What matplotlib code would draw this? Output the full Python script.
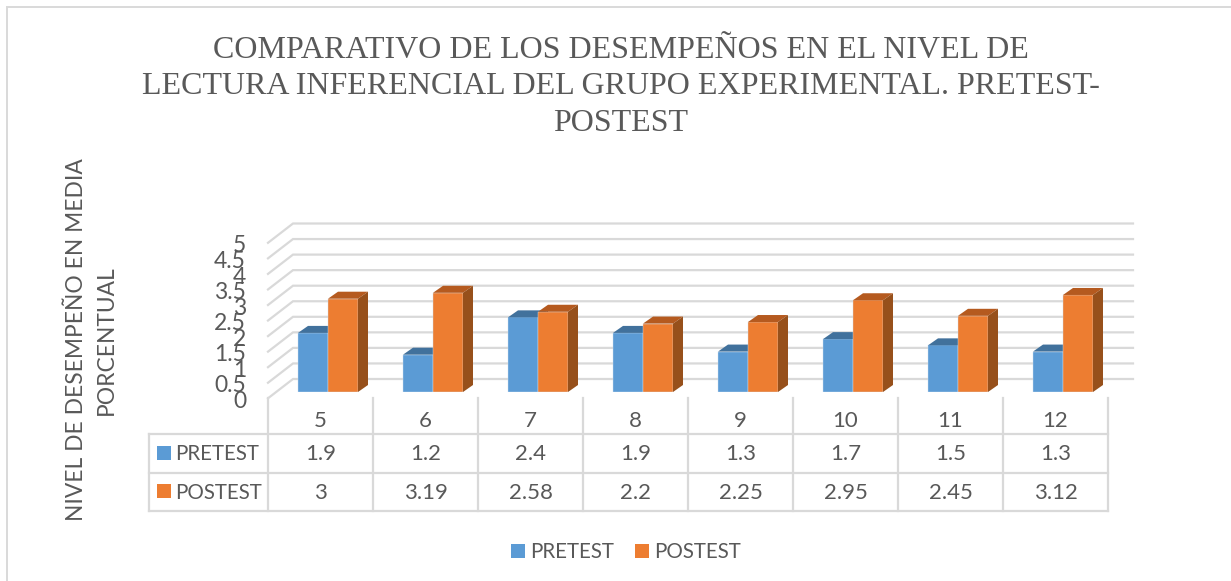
import matplotlib
matplotlib.use("Agg")
from matplotlib import pyplot as plt
from matplotlib.patches import Polygon, Rectangle

grados = ["5", "6", "7", "8", "9", "10", "11", "12"]
pretest = [1.9, 1.2, 2.4, 1.9, 1.3, 1.7, 1.5, 1.3]
postest = [3, 3.19, 2.58, 2.2, 2.25, 2.95, 2.45, 3.12]
postest_txt = ["3", "3.19", "2.58", "2.2", "2.25", "2.95", "2.45", "3.12"]
marcas = [0, 0.5, 1, 1.5, 2, 2.5, 3, 3.5, 4, 4.5, 5]
marcas_txt = ["0", "0.5", "1", "1.5", "2", "2.5", "3", "3.5", "4", "4.5", "5"]

titulo = ("COMPARATIVO DE LOS DESEMPEÑOS EN EL NIVEL DE\n"
          "LECTURA INFERENCIAL DEL GRUPO EXPERIMENTAL. PRETEST-\n"
          "POSTEST")

W, H = 1231, 581
GRIS = "#595959"
LINEA = "#d9d9d9"
AZUL = ("#5b9bd5", "#41719c", "#41719c")
NARANJA = ("#ed7d31", "#b55a1f", "#97501b")


def caja(left, top, right, bottom):
    return [left / W, 1 - bottom / H, (right - left) / W, (bottom - top) / H]


plt.rcParams["font.family"] = ["Lato", "DejaVu Sans"]
fig = plt.figure(figsize=(W / 100, H / 100), dpi=100)

# marco del grafico
fondo = fig.add_axes([0, 0, 1, 1])
fondo.set_xlim(0, W)
fondo.set_ylim(H, 0)
fondo.axis("off")
fondo.plot([7, 7, W], [H, 7, 7], color=LINEA, lw=1.4, solid_joinstyle="miter")

# ejes: x = categoria, y = valor (la cara frontal de las barras)
ax = fig.add_axes(caja(268, 236.5, 1108, 392))
ax.set_xlim(0, 8)
ax.set_ylim(0, 5)
ax.axis("off")

UX = 840 / 8
UY = 31.1

# paredes: lineas de cuadricula en perspectiva
for v in marcas:
    y0 = v - 6.3 / UY
    y1 = v + 13 / UY
    ax.plot([0, 25 / UX, 8 + 25 / UX], [y0, y1, y1], color=LINEA, lw=1.6,
            clip_on=False, zorder=1, solid_joinstyle="miter")

for v, txt in zip(marcas, marcas_txt):
    ax.text(-22 / UX, v - 9.5 / UY, txt, ha="right", va="center", fontsize=16.5,
            color=GRIS, clip_on=False, zorder=2)

# barras 3d
ANCHO = 30 / UX
DX = 10 / UX
DY = 7 / UY


def barra3d(x, v, colores, z):
    ax.bar(x, v, ANCHO, align="edge", color=colores[0], zorder=z,
           edgecolor="#cfe0f0", linewidth=0.3)
    ax.add_patch(Polygon([(x, v), (x + ANCHO, v), (x + ANCHO + DX, v + DY), (x + DX, v + DY)],
                         closed=True, facecolor=colores[1], edgecolor="none", zorder=z, clip_on=False))
    ax.add_patch(Polygon([(x + ANCHO, 0), (x + ANCHO + DX, DY), (x + ANCHO + DX, v + DY), (x + ANCHO, v)],
                         closed=True, facecolor=colores[2], edgecolor="none", zorder=z, clip_on=False))


for i in range(len(grados)):
    inicio = i + 30 / UX
    barra3d(inicio, pretest[i], AZUL, 3 + i * 2)
    barra3d(inicio + ANCHO, postest[i], NARANJA, 4 + i * 2)

# tabla de datos
tabla = fig.add_axes(caja(148.7, 434, 1108, 511))
tabla.set_xlim(-119.3 / UX, 8)
tabla.set_ylim(2, 0)
tabla.axis("off")
TOPE = -36 / 38.5

for y in [0, 1, 2]:
    tabla.plot([-119.3 / UX, 8], [y, y], color=LINEA, lw=1.6, clip_on=False)
for x in range(9):
    tabla.plot([x, x], [TOPE, 2], color=LINEA, lw=1.6, clip_on=False)
tabla.plot([-119.3 / UX, -119.3 / UX], [0, 2], color=LINEA, lw=1.6, clip_on=False)

for i in range(len(grados)):
    tabla.text(i + 0.5, -0.33, grados[i], ha="center", va="center", fontsize=16, color=GRIS, clip_on=False)
    tabla.text(i + 0.5, 0.53, str(pretest[i]), ha="center", va="center", fontsize=16, color=GRIS)
    tabla.text(i + 0.5, 1.53, postest_txt[i], ha="center", va="center", fontsize=16, color=GRIS)

for fila, nombre, color in [(0, "PRETEST", AZUL[0]), (1, "POSTEST", NARANJA[0])]:
    tabla.add_patch(Rectangle((-111 / UX, fila + 0.31), 14 / UX, 0.36, facecolor=color, edgecolor="none"))
    tabla.text(-93 / UX, fila + 0.53, nombre, ha="left", va="center", fontsize=14.8, color=GRIS)

# leyenda
fondo.add_patch(Rectangle((511, 544), 14, 14, facecolor=AZUL[0], edgecolor="none"))
fondo.text(530, 552, "PRETEST", ha="left", va="center", fontsize=14.8, color=GRIS)
fondo.add_patch(Rectangle((635, 544), 14, 14, facecolor=NARANJA[0], edgecolor="none"))
fondo.text(654.5, 552, "POSTEST", ha="left", va="center", fontsize=14.8, color=GRIS)

# titulos
fondo.text(621, 87, titulo, ha="center", va="center", fontsize=23, color=GRIS,
           family=["Liberation Serif", "DejaVu Serif"], linespacing=1.32)
fondo.text(91.5, 340, "NIVEL DE DESEMPEÑO EN MEDIA\nPORCENTUAL", ha="center", va="center",
           rotation=90, fontsize=16.4, color=GRIS, linespacing=1.48)

fig.savefig("out.png", dpi=100)
